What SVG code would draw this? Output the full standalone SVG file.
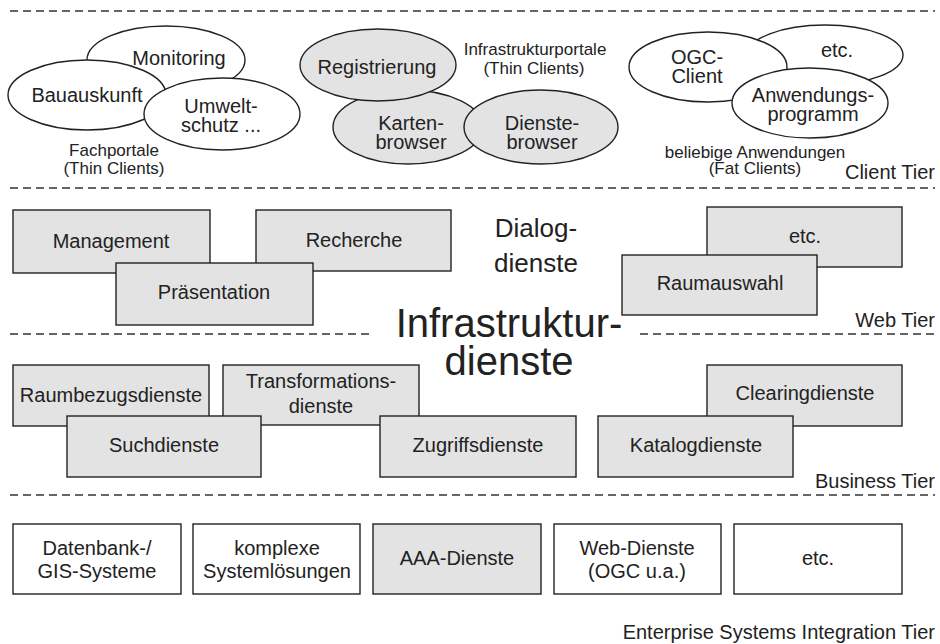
<svg xmlns="http://www.w3.org/2000/svg" width="940" height="644" viewBox="0 0 940 644">
<style>
.bg{fill:#fff}
.sep{stroke:#333;stroke-width:1.3;stroke-dasharray:8 5;fill:none}
.w{fill:#fff;stroke:#222;stroke-width:1.4}
.g{fill:#e3e3e3;stroke:#222;stroke-width:1.4}
text{font-family:"Liberation Sans",Arial,sans-serif;fill:#222}
.t{font-size:20px;text-anchor:middle}
.s{font-size:17px;text-anchor:middle}
.tier{font-size:20px;text-anchor:end}
.big{font-size:40px;text-anchor:middle}
.mid{font-size:26px;text-anchor:middle}
</style>
<rect class="bg" x="0" y="0" width="940" height="644"/>
<g id="separators">
<line class="sep" x1="10" y1="11" x2="935" y2="11"/>
<line class="sep" x1="10" y1="188" x2="935" y2="188"/>
<line class="sep" x1="10" y1="334" x2="372" y2="334"/>
<line class="sep" x1="640" y1="334" x2="935" y2="334"/>
<line class="sep" x1="10" y1="495" x2="935" y2="495"/>
</g>
<g id="connectors"></g>
<g id="client-tier">
<g id="monitoring"><ellipse class="w" cx="166" cy="60" rx="79" ry="34"/><text class="t" x="179" y="65">Monitoring</text></g>
<g id="bauauskunft"><ellipse class="w" cx="87" cy="95" rx="79" ry="35"/><text class="t" x="87" y="102">Bauauskunft</text></g>
<g id="umweltschutz"><ellipse class="w" cx="222" cy="114" rx="78" ry="36"/><text class="t" x="221" y="113">Umwelt-</text><text class="t" x="221" y="132">schutz ...</text></g>
<g id="fachportale"><text class="s" x="114" y="156">Fachportale</text><text class="s" x="114" y="174">(Thin Clients)</text></g>
<g id="kartenbrowser"><ellipse class="g" cx="408" cy="127" rx="75" ry="37"/><text class="t" x="411" y="130">Karten-</text><text class="t" x="411" y="149">browser</text></g>
<g id="registrierung"><ellipse class="g" cx="378" cy="65" rx="78" ry="36"/><text class="t" x="377" y="74">Registrierung</text></g>
<g id="dienstebrowser"><ellipse class="g" cx="541" cy="127" rx="77" ry="37"/><text class="t" x="542" y="130">Dienste-</text><text class="t" x="542" y="149">browser</text></g>
<g id="infrastrukturportale"><text class="s" x="535" y="55">Infrastrukturportale</text><text class="s" x="534" y="74">(Thin Clients)</text></g>
<g id="etc-client"><ellipse class="w" cx="825" cy="55" rx="78" ry="30"/><text class="t" x="837" y="57">etc.</text></g>
<g id="ogc-client"><ellipse class="w" cx="708" cy="67" rx="79" ry="35"/><text class="t" x="697" y="64">OGC-</text><text class="t" x="697" y="83">Client</text></g>
<g id="anwendungsprogramm"><ellipse class="w" cx="810" cy="103" rx="78" ry="35"/><text class="t" x="813" y="102">Anwendungs-</text><text class="t" x="813" y="121">programm</text></g>
<g id="beliebige"><text class="s" x="755" y="158">beliebige Anwendungen</text><text class="s" x="755" y="174">(Fat Clients)</text></g>
<text class="tier" x="935" y="179">Client Tier</text>
</g>
<g id="web-tier">
<g id="management"><rect class="g" x="13" y="210" width="197" height="63"/><text class="t" x="111" y="248">Management</text></g>
<g id="recherche"><rect class="g" x="256" y="210" width="195" height="61"/><text class="t" x="354" y="247">Recherche</text></g>
<g id="praesentation"><rect class="g" x="116" y="263" width="197" height="62"/><text class="t" x="214" y="299">Präsentation</text></g>
<g id="dialogdienste"><text class="mid" x="536" y="237">Dialog-</text><text class="mid" x="536" y="272">dienste</text></g>
<g id="etc-web"><rect class="g" x="707" y="207" width="195" height="60"/><text class="t" x="805" y="243">etc.</text></g>
<g id="raumauswahl"><rect class="g" x="622" y="255" width="195" height="60"/><text class="t" x="720" y="290">Raumauswahl</text></g>
<text class="tier" x="935" y="327">Web Tier</text>
</g>
<g id="infrastrukturdienste"><text class="big" x="509" y="337">Infrastruktur-</text><text class="big" x="509" y="375">dienste</text></g>
<g id="business-tier">
<g id="raumbezugsdienste"><rect class="g" x="13" y="365" width="196" height="61"/><text class="t" x="111" y="402">Raumbezugsdienste</text></g>
<g id="transformationsdienste"><rect class="g" x="223" y="365" width="196" height="60"/><text class="t" x="321" y="388">Transformations-</text><text class="t" x="321" y="413">dienste</text></g>
<g id="suchdienste"><rect class="g" x="67" y="416" width="194" height="61"/><text class="t" x="164" y="452">Suchdienste</text></g>
<g id="zugriffsdienste"><rect class="g" x="380" y="416" width="196" height="61"/><text class="t" x="478" y="452">Zugriffsdienste</text></g>
<g id="clearingdienste"><rect class="g" x="707" y="365" width="195" height="61"/><text class="t" x="805" y="400">Clearingdienste</text></g>
<g id="katalogdienste"><rect class="g" x="598" y="416" width="195" height="61"/><text class="t" x="696" y="452">Katalogdienste</text></g>
<text class="tier" x="935" y="488">Business Tier</text>
</g>
<g id="eis-tier">
<g id="datenbank"><rect class="w" x="13" y="524" width="168" height="70"/><text class="t" x="97" y="555">Datenbank-/</text><text class="t" x="97" y="578">GIS-Systeme</text></g>
<g id="komplexe"><rect class="w" x="193" y="524" width="167" height="70"/><text class="t" x="277" y="555">komplexe</text><text class="t" x="277" y="578">Systemlösungen</text></g>
<g id="aaa"><rect class="g" x="373" y="524" width="168" height="70"/><text class="t" x="457" y="565">AAA-Dienste</text></g>
<g id="webdienste"><rect class="w" x="554" y="524" width="167" height="70"/><text class="t" x="637" y="555">Web-Dienste</text><text class="t" x="637" y="578">(OGC u.a.)</text></g>
<g id="etc-eis"><rect class="w" x="734" y="524" width="168" height="70"/><text class="t" x="818" y="565">etc.</text></g>
<text class="tier" x="935" y="639">Enterprise Systems Integration Tier</text>
</g>
</svg>
